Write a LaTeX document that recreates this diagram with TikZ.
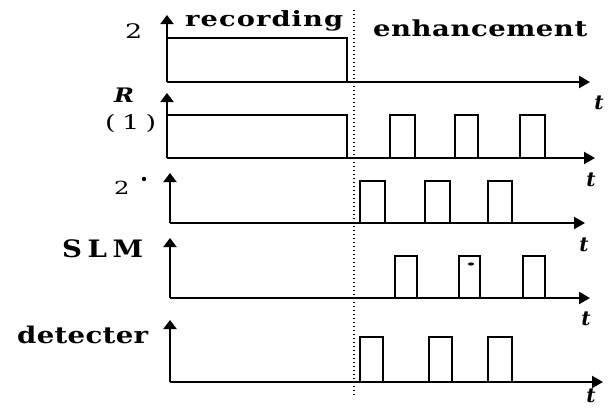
\documentclass[tikz,border=0pt]{standalone}
\usepackage{fontspec}
\usepackage{graphicx}
\setmainfont{DejaVu Serif}
\usetikzlibrary{arrows.meta}
\makeatletter
% \spread{total width}{horizontal scale}{letters}
\def\spread#1#2#3{\hbox to #1{\def\sp@s{#2}\spread@first#3\relax}}
\def\spread@first#1{\scalebox{\sp@s}[1]{#1}\spread@a}
\def\spread@a#1{\ifx#1\relax\else\hfil\scalebox{\sp@s}[1]{#1}\expandafter\spread@a\fi}
\makeatother
\begin{document}
\begin{tikzpicture}[x=1pt,y=-1pt,
 haxis/.style={line width=2.3pt,-{Triangle[length=11pt,width=12pt]}},
 vaxis/.style={line width=2.8pt,-{Triangle[length=9pt,width=13pt]}},
 pulse/.style={line width=2.4pt},
 sep/.style={line width=1.4pt,dash pattern=on 1.4pt off 2.6pt},
 lbl/.style={inner sep=0pt,anchor=base west,font=\fontsize{22}{22}\selectfont\bfseries},
 tl/.style={inner sep=0pt,font=\fontsize{20}{20}\selectfont\bfseries\itshape}]
\useasboundingbox (0,0) rectangle (611,408);
% separator
\coordinate (d1) at (354,10);
\coordinate (d2) at (354,396);
\draw[sep] (d1) -- (d2);
% row 1
\coordinate (o1) at (167,82); \coordinate (y1) at (167,15); \coordinate (x1) at (590,82);
\draw[vaxis] (o1) -- (y1); \draw[haxis] (o1) -- (x1);
\draw[pulse] (167,38) -- (347,38) -- (347,82);
% row 2
\coordinate (o2) at (167,158); \coordinate (y2) at (167,93); \coordinate (x2) at (595,158);
\draw[vaxis] (o2) -- (y2); \draw[haxis] (o2) -- (x2);
\draw[pulse] (167,115) -- (347,115) -- (347,158);
\foreach \a/\b in {390/415,455/478,520/545}
  \draw[pulse] (\a,158) -- (\a,115) -- (\b,115) -- (\b,158);
% row 3
\coordinate (o3) at (170,223); \coordinate (y3) at (170,173); \coordinate (x3) at (585,223);
\draw[vaxis] (o3) -- (y3); \draw[haxis] (o3) -- (x3);
\foreach \a/\b in {360/385,425/450,488/512}
  \draw[pulse] (\a,223) -- (\a,181) -- (\b,181) -- (\b,223);
% row 4
\coordinate (o4) at (170,298); \coordinate (y4) at (170,238); \coordinate (x4) at (590,298);
\draw[vaxis] (o4) -- (y4); \draw[haxis] (o4) -- (x4);
\foreach \a/\b in {395/417,459/480,523/545}
  \draw[pulse] (\a,298) -- (\a,256) -- (\b,256) -- (\b,298);
\fill (471,264) ellipse (3pt and 1.6pt);
% row 5
\coordinate (o5) at (170,382); \coordinate (y5) at (170,320); \coordinate (x5) at (603,382);
\draw[vaxis] (o5) -- (y5); \draw[haxis] (o5) -- (x5);
\foreach \a/\b in {360/383,429/452,488/512}
  \draw[pulse] (\a,382) -- (\a,337) -- (\b,337) -- (\b,382);
% labels
\node[lbl,font=\fontsize{21}{21}\selectfont\bfseries] (rec) at (185,26) {\spread{158pt}{1.3}{recording}};
\node[lbl] (enh) at (373,36) {\spread{214pt}{1.25}{enhancement}};
\node[lbl,font=\fontsize{20}{20}\selectfont] (l1) at (125,38) {\scalebox{1.35}[1]{2}};
\node[lbl,font=\fontsize{20}{20}\selectfont\bfseries\itshape] (l2a) at (114,102) {\scalebox{1.2}[1]{R}};
\node[lbl,font=\fontsize{20}{20}\selectfont] (l2b) at (105,129) {\spread{51pt}{1.35}{(1)}};
\node[lbl,font=\fontsize{18}{18}\selectfont] (l3) at (114,194) {\scalebox{1.35}[1]{2}};
\fill (144,179) circle (2.2pt);
\node[lbl,font=\fontsize{24}{24}\selectfont\bfseries] (l4) at (62,257) {\spread{81pt}{1.15}{SLM}};
\node[lbl,font=\fontsize{23}{23}\selectfont\bfseries] (l5) at (17,343) {\spread{131pt}{1.2}{detecter}};
\node[tl] (t1) at (599,103) {t};
\node[tl] (t2) at (591,180) {t};
\node[tl] (t3) at (584,245) {t};
\node[tl] (t4) at (586,319) {t};
\node[tl] (t5) at (591,396) {t};
\end{tikzpicture}
\end{document}
